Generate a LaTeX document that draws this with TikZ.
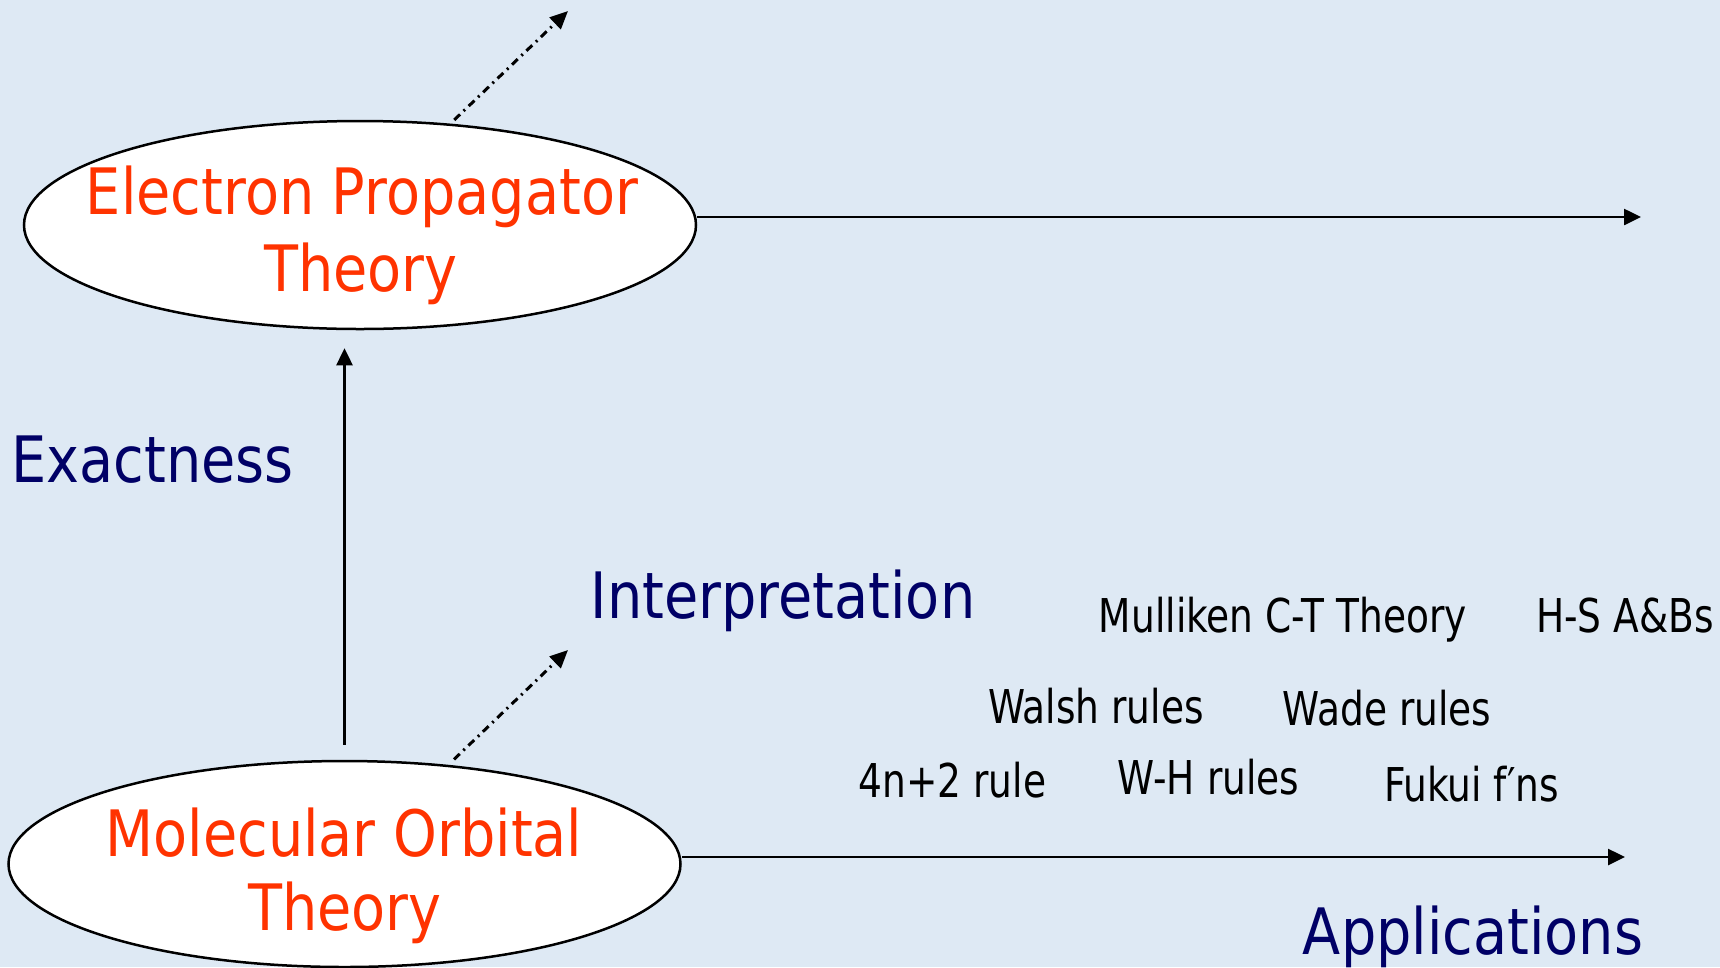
\documentclass[tikz,border=0pt]{standalone}
\usepackage{fontspec}
\usetikzlibrary{arrows.meta,shapes.geometric}
\newfontfamily\bigface[FakeStretch=0.87]{DejaVu Sans}
\newfontfamily\smallface[FakeStretch=0.805]{DejaVu Sans}
\definecolor{bgblue}{RGB}{222,233,244}
\definecolor{titlered}{RGB}{255,51,0}
\definecolor{navy}{RGB}{0,0,102}
\begin{document}
\begin{tikzpicture}[x=1pt,y=-1pt,
  theorybox/.style={ellipse, draw=black, line width=2.5pt, fill=white,
    minimum width=672pt, minimum height=208pt, inner sep=0pt},
  titletext/.style={font=\bigface\fontsize{64}{76}\selectfont, text=titlered,
    inner sep=0pt, anchor=base},
  axistext/.style={font=\bigface\fontsize{64}{76}\selectfont, text=navy,
    inner sep=0pt, anchor=base},
  ruletext/.style={font=\smallface\fontsize{46.6}{54}\selectfont, text=black,
    inner sep=0pt, anchor=base},
  arr/.style={line width=2.5pt, -{Triangle[length=17pt,width=16pt]}},
  dotarr/.style={line width=3pt, dash pattern=on 8pt off 5pt on 2pt off 5pt,
    -{Triangle[length=18pt,width=16pt]}}]

  % canvas
  \fill[bgblue] (0,0) rectangle (1720,967);
  \useasboundingbox (0,0) rectangle (1720,967);

  % the two theories
  \node[theorybox] (topE) at (360,225) {};
  \node[theorybox, minimum height=206pt] (bottomE) at (344.5,864) {};

  \node[titletext] (topT1) at (362,214) {Electron Propagator};
  \node[titletext] (topT2) at (361,291) {Theory};
  \node[titletext] (botT1) at (344,856) {Molecular Orbital};
  \node[titletext] (botT2) at (345,930) {Theory};

  % axis labels
  \node[axistext] (exact) at (152.5,482) {Exactness};
  \node[axistext] (interp) at (783,618) {Interpretation};
  \node[axistext] (appl) at (1473,954) {Applications};

  % rules and models along the applications axis
  \node[ruletext] (mull) at (1283,632) {Mulliken C-T Theory};
  \node[ruletext] (hs) at (1625,632) {H-S A\&Bs};
  \node[ruletext] (walsh) at (1096,723) {Walsh rules};
  \node[ruletext] (wade) at (1387,725) {Wade rules};
  \node[ruletext] (fourn) at (952.5,797.5) {4n+2 rule};
  \node[ruletext] (wh) at (1208.5,794) {W-H rules};
  \node[ruletext] (fukui) at (1471.5,801) {Fukui f′ns};

  % arrow end points
  \coordinate (topEnd) at (1641,217);
  \coordinate (botEnd) at (1625,857);
  \coordinate (topDotEnd) at (568,11);
  \coordinate (botDotEnd) at (568,650);
  \coordinate (vTip) at (bottomE.north |- topE.south);

  % connectors
  \draw[arr] ([yshift=8pt]topE.east) -- (topEnd);
  \draw[arr] ([yshift=7pt]bottomE.east) -- (botEnd);
  \draw[arr] ([yshift=15pt]bottomE.north) -- ([yshift=-18pt]vTip);
  \draw[dotarr] ([yshift=4pt]topE.47) -- (topDotEnd);
  \draw[dotarr] ([yshift=6pt]bottomE.42) -- (botDotEnd);
\end{tikzpicture}
\end{document}
